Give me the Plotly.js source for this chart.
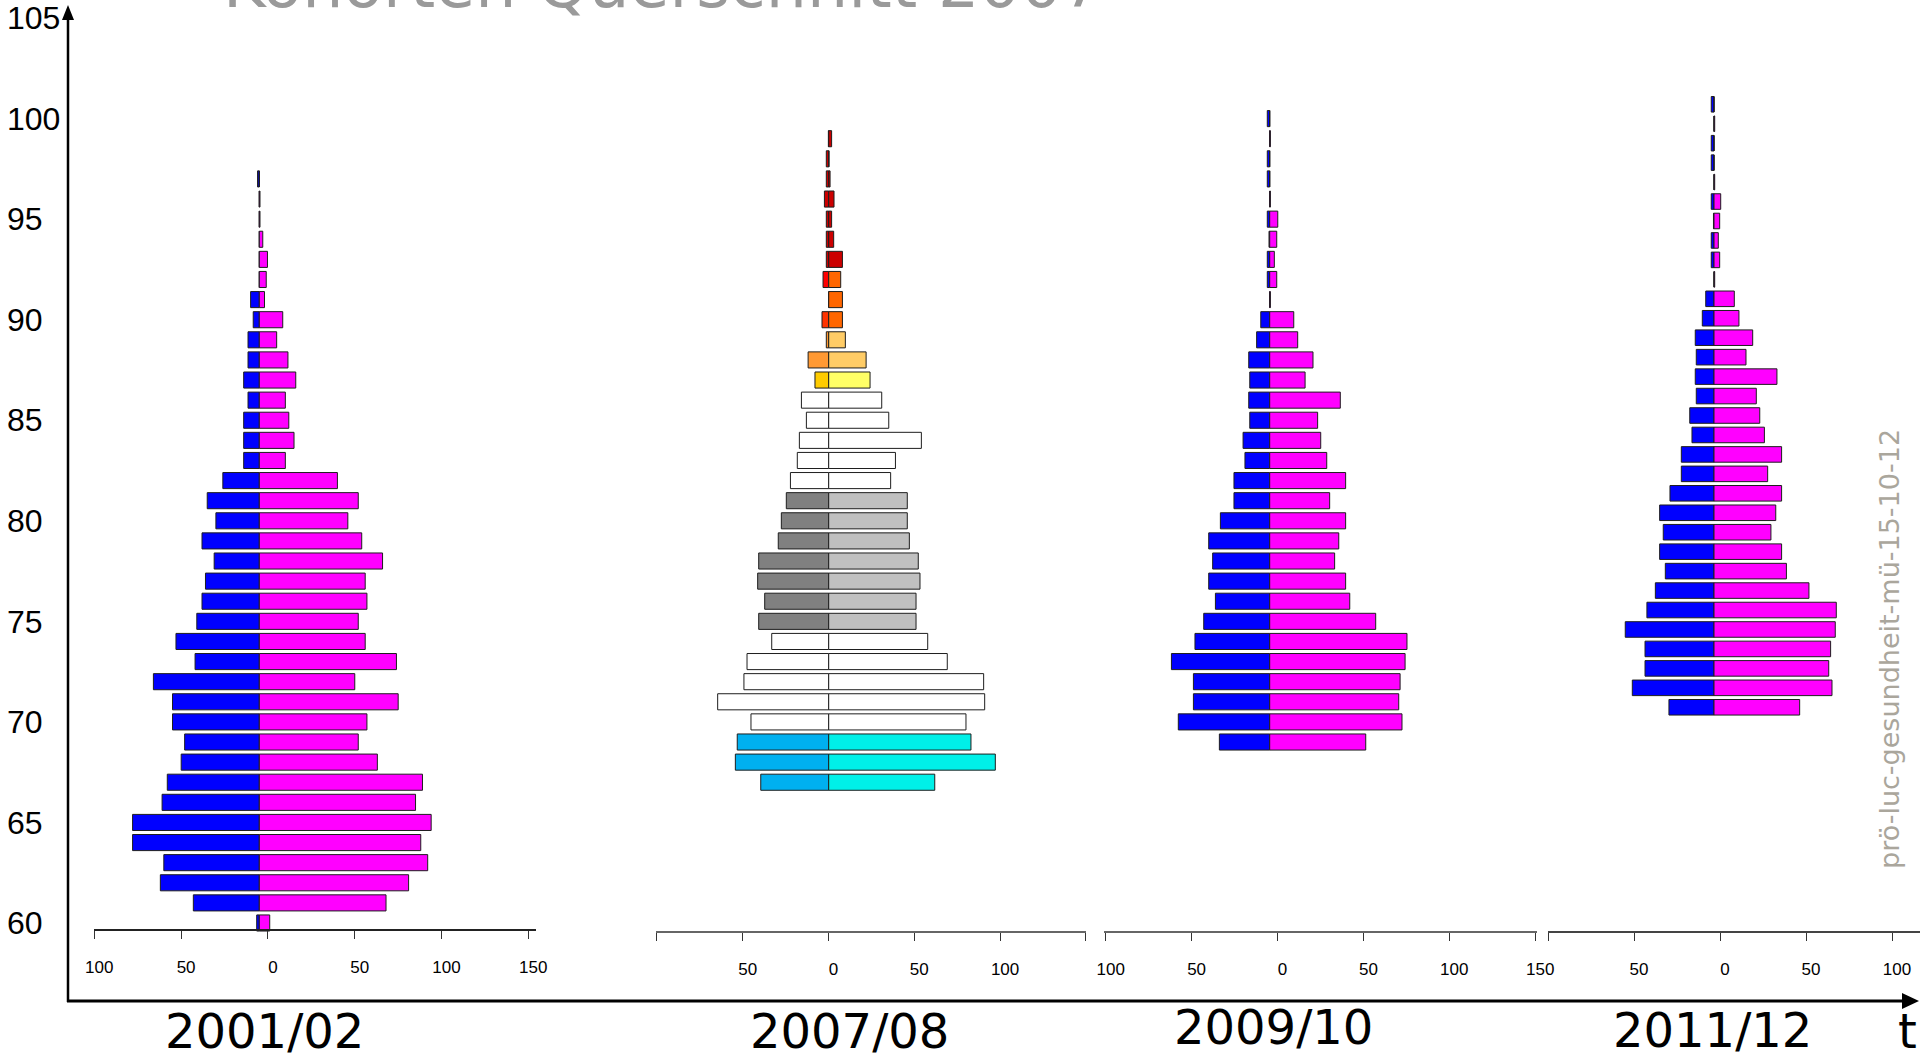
<!DOCTYPE html>
<html>
<head>
<meta charset="utf-8">
<script src="https://cdn.plot.ly/plotly-3.0.1.min.js"></script>
<style>
html,body{margin:0;padding:0;background:#fff;overflow:hidden}
#chart{width:1920px;height:1057px}
</style>
</head>
<body>
<div id="chart"></div>
<script>
// ---------------- DATA ----------------
const titleText = "Kohorten Querschnitt 2007";
const periods = ["2001/02", "2007/08", "2009/10", "2011/12"];
const timeLabel = "t";
const watermark = "prö-luc-gesundheit-mü-15-10-12";
const yTickVals = [60, 65, 70, 75, 80, 85, 90, 95, 100, 105];

// 2001/02 (ages 60-97)
const ages01 = [60,61,62,63,64,65,66,67,68,69,70,71,72,73,74,75,76,77,78,79,80,81,82,83,84,85,86,87,88,89,90,91,92,93,94,95,96,97];
const male01 = [1.5,38,57,55,73,73,56,53,45,43,50,50,61,37,48,36,33,31,26,33,25,30,21,9,9,9,6.5,9,6.5,6.5,3.5,5,0,0,0,0,0,1];
const female01 = [6,73,86,97,93,99,90,94,68,57,62,80,55,79,61,57,62,61,71,59,51,57,45,15,20,17,15,21,16.5,10,13.5,3,4,4.7,2,0.4,0.4,0];

// 2007/08 (ages 67-99)
const ages07 = [67,68,69,70,71,72,73,74,75,76,77,78,79,80,81,82,83,84,85,86,87,88,89,90,91,92,93,94,95,96,97,98,99];
const male07 = [39.6,54.4,53.3,45.3,64.7,49.4,47.6,33.2,40.8,37.3,41.4,40.8,29.4,27.6,24.7,22.3,18.3,17.1,13.0,15.9,8.0,12.0,1.4,3.9,0,3.3,1.4,1.4,1.4,2.5,1.4,1.4,0.2];
const female07 = [61.8,97.1,82.9,80.0,90.9,90.3,69.1,57.7,50.9,50.9,53.2,52.2,47.0,45.8,45.8,36.1,38.9,54.0,35.0,30.9,24.1,21.8,9.7,8.0,8.0,7.0,8.0,2.9,1.7,3.1,0.8,0.2,1.7];
const maleColors07 = ["#00b0f0","#00b0f0","#00b0f0","#ffffff","#ffffff","#ffffff","#ffffff","#ffffff","#808080","#808080","#808080","#808080","#808080","#808080","#808080","#ffffff","#ffffff","#ffffff","#ffffff","#ffffff","#ffcc00","#ff9933","#ff9933","#ff3300","#ff3300","#ff0000","#cc0000","#cc0000","#cc0000","#cc0000","#cc0000","#cc0000","#cc0000"];
const femaleColors07 = ["#00f0e8","#00f0e8","#00f0e8","#ffffff","#ffffff","#ffffff","#ffffff","#ffffff","#c0c0c0","#c0c0c0","#c0c0c0","#c0c0c0","#c0c0c0","#c0c0c0","#c0c0c0","#ffffff","#ffffff","#ffffff","#ffffff","#ffffff","#ffff66","#ffcc66","#ffcc66","#ff6600","#ff6600","#ff6600","#cc0000","#cc0000","#cc0000","#cc0000","#cc0000","#cc0000","#cc0000"];

// 2009/10 (ages 69-100)
const ages09 = [69,70,71,72,73,74,75,76,77,78,79,80,81,82,83,84,85,86,87,88,89,90,91,92,93,94,95,96,97,98,99,100];
const male09 = [29.3,53.2,44.4,44.4,57.2,43.5,38.4,31.6,35.5,33.2,35.5,28.7,20.8,20.8,14.4,15.5,11.6,12.2,11.6,12.2,7.6,5.2,0,1.4,1.4,0.4,1.4,0,1.4,1.4,0,1.4];
const female09 = [55.9,77.0,75.1,75.9,78.8,79.9,61.7,46.6,44.2,37.8,40.2,44.2,34.9,44.2,33.2,29.7,27.9,41.1,20.6,25.2,16.3,14.0,0.4,4.1,2.7,4.1,4.7,0.4,0,0,0.4,0];

// 2011/12 (ages 71-102)
const ages11 = [71,72,73,74,75,76,77,78,79,80,81,82,83,84,85,86,87,88,89,90,91,92,93,94,95,96,97,98,99,100,101,102];
const male11 = [26.2,47.5,40.1,40.1,51.6,39.0,34.1,28.3,31.6,29.5,31.6,25.6,19.0,19.0,12.8,14.1,10.3,10.9,10.3,10.9,6.8,4.8,0,1.6,1.6,0.3,1.6,0,1.6,1.6,0,1.6];
const female11 = [49.8,68.6,66.7,67.8,70.5,71.1,55.2,42.1,39.3,33.1,35.9,39.3,31.2,39.3,29.3,26.6,24.6,36.6,18.6,22.5,14.5,11.8,0.4,3.3,2.5,3.3,3.9,0.4,0,0,0.4,0];

// axis tick labels of the four small x axes
const tickVals01 = [-100,-50,0,50,100,150];
const tickText01 = ["100","50","0","50","100","150"];
const tickVals07 = [-100,-50,0,50,100,150];
const tickText07 = ["","50","0","50","100",""];
const tickVals09 = [-100,-50,0,50,100,150];
const tickText09 = ["100","50","0","50","100","150"];
const tickVals11 = [-100,-50,0,50,100];
const tickText11 = ["","50","0","50","100"];

// ---------------- LAYOUT HELPERS ----------------
const W = 1920, H = 1057;
const px = v => v / W;
const py = v => 1 - v / H;
const SANS = "Liberation Sans, Arial, sans-serif";
const DEJA = "DejaVu Sans, Verdana, sans-serif";
const BLUE = "#0000ff", PINK = "#ff00ff";
const EDGE = {color: "#1e1e1e", width: 1};

// panel geometry in page pixels: domain, px per unit, pixel of tick zero, pixel of bar zero, axis line y
const panels = [
  {d0: 94,   d1: 536,  s: 1.736, tz: 267.9,  bz: 259.3,  lineY: 930, tv: tickVals01, tt: tickText01, lc: "#222"},
  {d0: 656,  d1: 1086, s: 1.716, tz: 828.5,  bz: 828.7,  lineY: 932, tv: tickVals07, tt: tickText07, lc: "#666"},
  {d0: 1104, d1: 1537, s: 1.718, tz: 1277.5, bz: 1269.7, lineY: 932, tv: tickVals09, tt: tickText09, lc: "#666"},
  {d0: 1548, d1: 1920, s: 1.72,  tz: 1720,   bz: 1714,   lineY: 932, tv: tickVals11, tt: tickText11, lc: "#444"}
];

const neg = a => a.map(v => -v);

function barTrace(xs, ys, color, xa, ya) {
  return {type: "bar", orientation: "h", x: xs, y: ys, xaxis: xa, yaxis: ya,
    marker: {color: color, line: EDGE}, hoverinfo: "skip", showlegend: false};
}
// empty trace that only makes a tick axis exist
function axisHolder(xa) {
  return {type: "scatter", mode: "markers", x: [null], y: [null], xaxis: xa, yaxis: "y",
    hoverinfo: "skip", showlegend: false};
}

const data = [
  barTrace(neg(male01), ages01, BLUE, "x", "y"),
  barTrace(female01, ages01, PINK, "x", "y"),
  barTrace(neg(male07), ages07, maleColors07, "x3", "y"),
  barTrace(female07, ages07, femaleColors07, "x3", "y"),
  barTrace(neg(male09), ages09, BLUE, "x5", "y"),
  barTrace(female09, ages09, PINK, "x5", "y"),
  barTrace(neg(male11), ages11, BLUE, "x7", "y2"),
  barTrace(female11, ages11, PINK, "x7", "y2"),
  axisHolder("x2"), axisHolder("x4"), axisHolder("x6"), axisHolder("x8")
];

const yDomain = [py(1001), py(8)];

const layout = {
  width: W, height: H,
  margin: {l: 0, r: 0, t: 0, b: 0, pad: 0},
  paper_bgcolor: "#ffffff", plot_bgcolor: "rgba(0,0,0,0)",
  barmode: "relative", bargap: 0.2,
  showlegend: false,
  title: {text: titleText, x: px(223), xanchor: "left", xref: "container",
          y: py(7), yanchor: "bottom", yref: "container",
          font: {family: DEJA, size: 65, color: "#9a9a9a"}},
  yaxis: {domain: yDomain, range: [56.121, 105.50], anchor: "free", position: px(6), side: "right",
          showline: false, showgrid: false, zeroline: false, ticks: "",
          tickvals: yTickVals, tickfont: {family: SANS, size: 32, color: "#000"}, fixedrange: true},
  yaxis2: {domain: yDomain, range: [55.90, 106.95], anchor: "x7", visible: false, fixedrange: true},
  shapes: [
    {type: "line", xref: "paper", yref: "paper", x0: px(68), x1: px(68), y0: py(1002), y1: py(16), line: {color: "#000", width: 2.5}},
    {type: "path", xref: "paper", yref: "paper", path: `M ${px(62)},${py(20)} L ${px(68)},${py(5)} L ${px(74)},${py(20)} Z`, fillcolor: "#000", line: {width: 0}},
    {type: "line", xref: "paper", yref: "paper", x0: px(67), x1: px(1906), y0: py(1001), y1: py(1001), line: {color: "#000", width: 3}},
    {type: "path", xref: "paper", yref: "paper", path: `M ${px(1902)},${py(993)} L ${px(1919)},${py(1001)} L ${px(1902)},${py(1009)} Z`, fillcolor: "#000", line: {width: 0}}
  ],
  annotations: [
    {text: periods[0], x: px(264), y: py(1031), xref: "paper", yref: "paper", xanchor: "center", yanchor: "middle", showarrow: false, font: {family: DEJA, size: 48, color: "#000"}},
    {text: periods[1], x: px(849), y: py(1031), xref: "paper", yref: "paper", xanchor: "center", yanchor: "middle", showarrow: false, font: {family: DEJA, size: 48, color: "#000"}},
    {text: periods[2], x: px(1273), y: py(1027), xref: "paper", yref: "paper", xanchor: "center", yanchor: "middle", showarrow: false, font: {family: DEJA, size: 48, color: "#000"}},
    {text: periods[3], x: px(1712), y: py(1030), xref: "paper", yref: "paper", xanchor: "center", yanchor: "middle", showarrow: false, font: {family: DEJA, size: 48, color: "#000"}},
    {text: timeLabel, x: px(1907), y: py(1031), xref: "paper", yref: "paper", xanchor: "center", yanchor: "middle", showarrow: false, font: {family: DEJA, size: 48, color: "#000"}},
    {text: watermark, x: px(1889), y: py(649), xref: "paper", yref: "paper", xanchor: "center", yanchor: "middle", textangle: -90, showarrow: false, font: {family: DEJA, size: 27, color: "#aaa69c"}}
  ]
};

// bar axes (hidden) and overlaying tick axes (visible)
panels.forEach((p, i) => {
  const barName = i === 0 ? "xaxis" : "xaxis" + (2 * i + 1);
  const barId = i === 0 ? "x" : "x" + (2 * i + 1);
  const tickName = "xaxis" + (2 * i + 2);
  const domain = [px(p.d0), px(p.d1)];
  const t0 = (p.d0 - p.tz) / p.s, t1 = (p.d1 - p.tz) / p.s;
  const off = (p.tz - p.bz) / p.s;
  layout[barName] = {domain: domain, range: [t0 + off, t1 + off], anchor: i === 3 ? "y2" : "y",
                     visible: false, fixedrange: true};
  layout[tickName] = {overlaying: barId, domain: domain, range: [t0, t1], anchor: "free", position: py(p.lineY),
                      side: "bottom", showline: true, linecolor: p.lc, linewidth: 2,
                      ticks: "outside", ticklen: 8, tickwidth: 1, tickcolor: "#333",
                      tickvals: p.tv, ticktext: p.tt, ticklabelstandoff: 14, ticklabelshift: 5,
                      tickfont: {family: SANS, size: 17, color: "#000"},
                      showgrid: false, zeroline: false, fixedrange: true};
});

Plotly.newPlot("chart", data, layout, {displayModeBar: false, staticPlot: true});
</script>
</body>
</html>
